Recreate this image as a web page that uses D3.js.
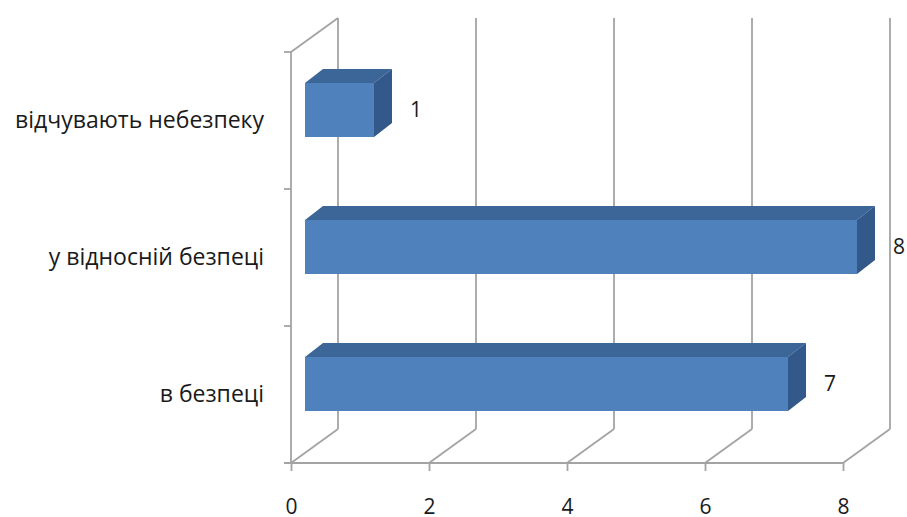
<!DOCTYPE html>
<html>
<head>
<meta charset="utf-8">
<script src="https://cdn.jsdelivr.net/npm/d3@7"></script>
<style>
  body { margin: 0; background: #fff; }
  text { font-family: "Open Sans", sans-serif; fill: #1a1a1a; }
</style>
</head>
<body>
<div id="chart-area"></div>
<script>
// categories from bottom to top
var categories = ["в безпеці", "у відносній безпеці", "відчувають небезпеку"];
var values = [7, 8, 1];
var xTicks = [0, 2, 4, 6, 8];

var width = 907, height = 517;
var plotLeft = 291, plotRight = 843, plotTop = 52, plotBottom = 463;
// depth of the 3d box and of the bars
var depth = {dx: 47, dy: -34};
var front = {dx: 14, dy: -10.5};
var bar = {dx: 18, dy: -14, h: 54};
var gridColor = "#a3a3a3";

var data = categories.map(function(c, i) { return {cat: c, value: values[i]}; });

var svg = d3.select("#chart-area").append("svg")
    .attr("width", width)
    .attr("height", height);

var x = d3.scaleLinear().domain([0, 8]).range([plotLeft, plotRight]);
var y = d3.scaleBand().domain(categories).range([plotBottom, plotTop]);

var grid = svg.append("g")
    .attr("stroke", gridColor)
    .attr("stroke-width", 1.8)
    .attr("fill", "none");

// back wall gridlines
grid.selectAll("line.back")
    .data(xTicks)
    .enter()
    .append("line")
    .attr("x1", function(d) { return x(d) + depth.dx; })
    .attr("x2", function(d) { return x(d) + depth.dx; })
    .attr("y1", plotBottom + depth.dy)
    .attr("y2", plotTop + depth.dy);

// floor diagonals
grid.selectAll("line.floor")
    .data(xTicks)
    .enter()
    .append("line")
    .attr("x1", function(d) { return x(d); })
    .attr("x2", function(d) { return x(d) + depth.dx; })
    .attr("y1", plotBottom)
    .attr("y2", plotBottom + depth.dy);

// left wall: front edge and top diagonal
grid.append("line")
    .attr("x1", plotLeft).attr("x2", plotLeft)
    .attr("y1", plotTop).attr("y2", plotBottom);
grid.append("line")
    .attr("x1", plotLeft).attr("x2", plotLeft + depth.dx)
    .attr("y1", plotTop).attr("y2", plotTop + depth.dy);

// category boundary ticks on the left wall
var bounds = categories.map(function(c) { return y(c); }).concat([plotBottom]);
grid.selectAll("line.ctick")
    .data(bounds)
    .enter()
    .append("line")
    .attr("x1", plotLeft - 7).attr("x2", plotLeft)
    .attr("y1", function(d) { return d; })
    .attr("y2", function(d) { return d; });

// x axis
var xAxis = svg.append("g")
    .attr("transform", "translate(0," + plotBottom + ")")
    .call(d3.axisBottom(x).tickValues(xTicks).tickSize(8).tickSizeOuter(0).tickPadding(28));
xAxis.select(".domain").attr("stroke", gridColor).attr("stroke-width", 1.8)
    .attr("d", "M" + (plotLeft - 7) + ",0H" + plotRight);
xAxis.selectAll(".tick line").attr("stroke", gridColor).attr("stroke-width", 1.8);
xAxis.selectAll(".tick text").style("font-size", "21px").attr("fill", "#1a1a1a");

// y axis labels
var yAxis = svg.append("g")
    .attr("transform", "translate(" + plotLeft + ",0)")
    .call(d3.axisLeft(y).tickSize(0).tickPadding(27));
yAxis.select(".domain").remove();
yAxis.selectAll(".tick text").style("font-size", "23px").attr("fill", "#1a1a1a");

// bars
var bars = svg.selectAll("g.bar")
    .data(data)
    .enter()
    .append("g")
    .attr("class", "bar");

function geom(d) {
    var x0 = x(0) + front.dx, x1 = x(d.value) + front.dx;
    var yc = y(d.cat) + y.bandwidth() / 2 + front.dy;
    return {x0: x0, x1: x1, y0: yc - bar.h / 2, y1: yc + bar.h / 2, yc: yc};
}

bars.append("polygon")
    .attr("fill", "#3c6598")
    .attr("points", function(d) {
        var g = geom(d);
        return [[g.x0, g.y0], [g.x1, g.y0], [g.x1 + bar.dx, g.y0 + bar.dy], [g.x0 + bar.dx, g.y0 + bar.dy]].join(" ");
    });

bars.append("polygon")
    .attr("fill", "#33588a")
    .attr("points", function(d) {
        var g = geom(d);
        return [[g.x1, g.y0], [g.x1 + bar.dx, g.y0 + bar.dy], [g.x1 + bar.dx, g.y1 + bar.dy], [g.x1, g.y1]].join(" ");
    });

bars.append("rect")
    .attr("fill", "#4f81bd")
    .attr("x", function(d) { return geom(d).x0; })
    .attr("y", function(d) { return geom(d).y0; })
    .attr("width", function(d) { return geom(d).x1 - geom(d).x0; })
    .attr("height", bar.h);

// value labels
bars.append("text")
    .attr("x", function(d) { return geom(d).x1 + bar.dx + 18; })
    .attr("y", function(d) { return geom(d).yc; })
    .attr("dy", "0.35em")
    .style("font-size", "21px")
    .text(function(d) { return d.value; });
</script>
</body>
</html>
